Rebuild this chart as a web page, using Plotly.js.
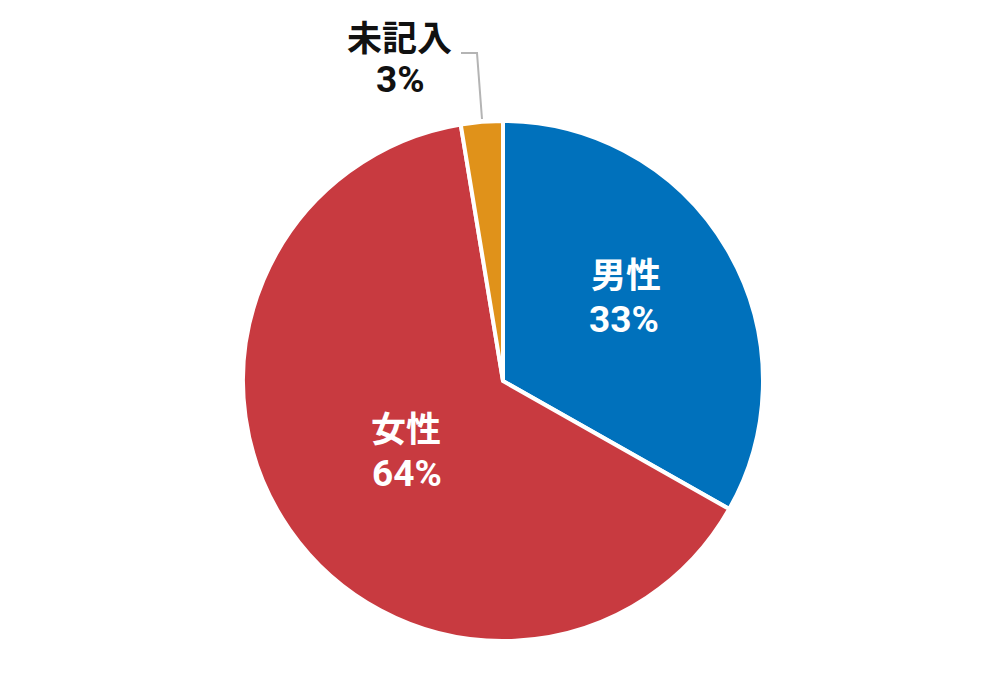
<!DOCTYPE html>
<html><head><meta charset="utf-8">
<script src="https://cdn.plot.ly/plotly-3.0.1.min.js"></script>
<style>html,body{margin:0;padding:0;background:#fff}#chart{width:1000px;height:680px}</style>
</head><body><div id="chart"></div>
<script>
const labels = ['男性', '女性', '未記入'];
const values = [33.2, 64.2, 2.6];
const percentLabels = ['33%', '64%', '3%'];
const colors = ['#0071bc', '#c83a40', '#e0921a'];
const textColors = ['#ffffff', '#ffffff', '#111111'];

const W = 1000, H = 680;
const fam = 'Roboto, "Noto Sans CJK JP", sans-serif';
const famCJK = '"Noto Sans CJK JP", sans-serif';

// label anchor positions in pixels: [nameX, nameY, pctX, pctY]
const labelPos = [[626, 272, 624, 319], [406, 426, 407, 473], [399, 35, 400, 79]];

const trace = {
  type: 'pie',
  labels: labels,
  values: values,
  sort: false,
  direction: 'clockwise',
  rotation: 0,
  marker: {colors: colors, line: {color: '#ffffff', width: 4}},
  textinfo: 'none',
  hoverinfo: 'none',
  showlegend: false,
  domain: {x: [0.243, 0.763], y: [39/H, 559/H]}
};

const annotations = [];
labels.forEach((lab, i) => {
  const p = labelPos[i];
  annotations.push({
    xref: 'paper', yref: 'paper', x: p[0]/W, y: 1 - p[1]/H,
    xanchor: 'center', yanchor: 'middle', showarrow: false,
    text: lab,
    font: {family: famCJK, size: 35, color: textColors[i], weight: 'bold'}
  });
  annotations.push({
    xref: 'paper', yref: 'paper', x: p[2]/W, y: 1 - p[3]/H,
    xanchor: 'center', yanchor: 'middle', showarrow: false,
    text: percentLabels[i],
    font: {family: fam, size: 37, color: textColors[i], weight: 'bold'}
  });
});

const layout = {
  width: W, height: H,
  margin: {l: 0, r: 0, t: 0, b: 0},
  paper_bgcolor: '#ffffff',
  showlegend: false,
  annotations: annotations,
  shapes: [{
    type: 'path', xref: 'paper', yref: 'paper',
    path: 'M ' + (461/W) + ' ' + (1 - 53/H) + ' L ' + (477/W) + ' ' + (1 - 53/H) + ' L ' + (482/W) + ' ' + (1 - 119/H),
    line: {color: '#b4b4b4', width: 2}
  }]
};

Plotly.newPlot('chart', [trace], layout, {displayModeBar: false, staticPlot: true});
</script>
</body></html>
